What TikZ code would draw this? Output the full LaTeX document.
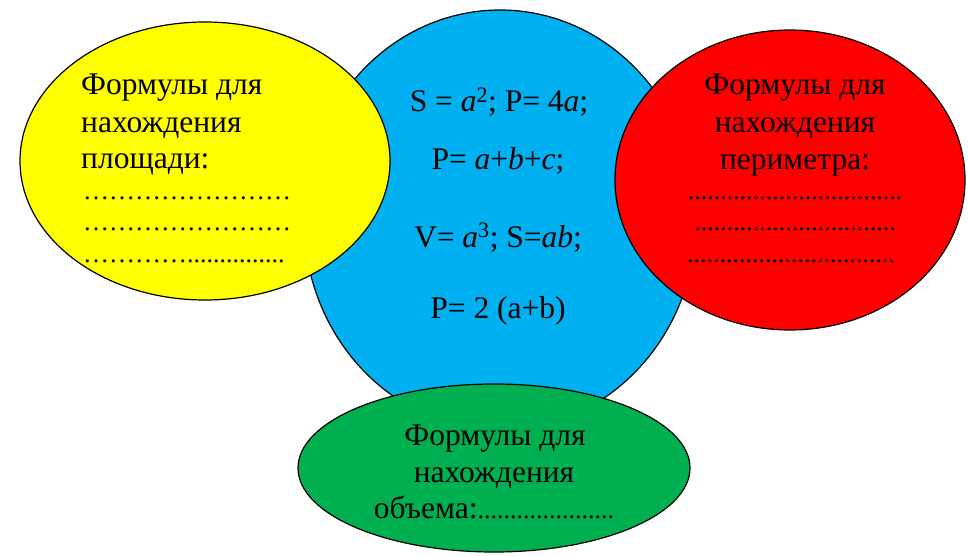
\documentclass[tikz,border=0pt]{standalone}
\usepackage{fontspec}
\setmainfont{Liberation Serif}
\usetikzlibrary{shapes.geometric}
\definecolor{cblue}{HTML}{00B0F0}
\definecolor{cyellow}{HTML}{FFFF00}
\definecolor{cred}{HTML}{FF0000}
\definecolor{cgreen}{HTML}{00B050}
\begin{document}
\begin{tikzpicture}[x=1pt,y=-1pt,
  blob/.style={draw=black,line width=1.2pt,ellipse,inner sep=0pt},
  txt/.style={inner sep=0pt,font=\fontsize{31.5}{36}\selectfont},
  dots/.style={inner sep=0pt,font=\fontsize{26}{30}\selectfont},
  txtl/.style={txt,anchor=base west},
  txtc/.style={txt,anchor=base},
  dotsl/.style={dots,anchor=base west},
  dotsc/.style={dots,anchor=base}]
\useasboundingbox (0,0) rectangle (968,556);
\node[blob,fill=cblue,minimum width=392pt,minimum height=420pt] (blue) at (500,220) {};
\node[blob,fill=cyellow,minimum width=370pt,minimum height=278pt] (yellow) at (205,161) {};
\node[blob,fill=cred,minimum width=350pt,minimum height=300pt] (red) at (790,180) {};
\node[blob,fill=cgreen,minimum width=392pt,minimum height=168pt] (green) at (494,468) {};
% yellow
\node[txtl] (y1) at (81,95) {Формулы для};
\node[txtl] (y2) at (81,133) {нахождения};
\node[txtl] (y3) at (81,168) {площади:};
\node[dotsl] (y4) at (83,200) {……………………};
\node[dotsl] (y5) at (83,230) {……………………};
\node[dotsl] (y6) at (83,262) {…………...............};
% blue
\node[txtc] (b1) at (499,112) {S = \textit{a}\textsuperscript{2}; P= 4\textit{a};};
\node[txtc] (b2) at (498,170) {P= \textit{a}+\textit{b}+\textit{c};};
\node[txtc] (b3) at (498,247) {V= \textit{a}\textsuperscript{3}; S=\textit{ab};};
\node[txtc] (b4) at (498,318) {P= 2 (a+b)};
% red
\node[txtc] (r1) at (795,95) {Формулы для};
\node[txtc] (r2) at (795,133) {нахождения};
\node[txtc] (r3) at (795,170) {периметра:};
\node[dotsc] (r4) at (795,200) {.................................};
\node[dotsc] (r5) at (795,230) {...............................};
\node[dotsc] (r6) at (791,262) {................................};
% green
\node[txtc] (g1) at (495,445) {Формулы для};
\node[txtc] (g2) at (494,482) {нахождения};
\node[txtc] (g3) at (494,518) {объема:{\fontsize{26}{30}\selectfont.....................}};
\end{tikzpicture}
\end{document}
